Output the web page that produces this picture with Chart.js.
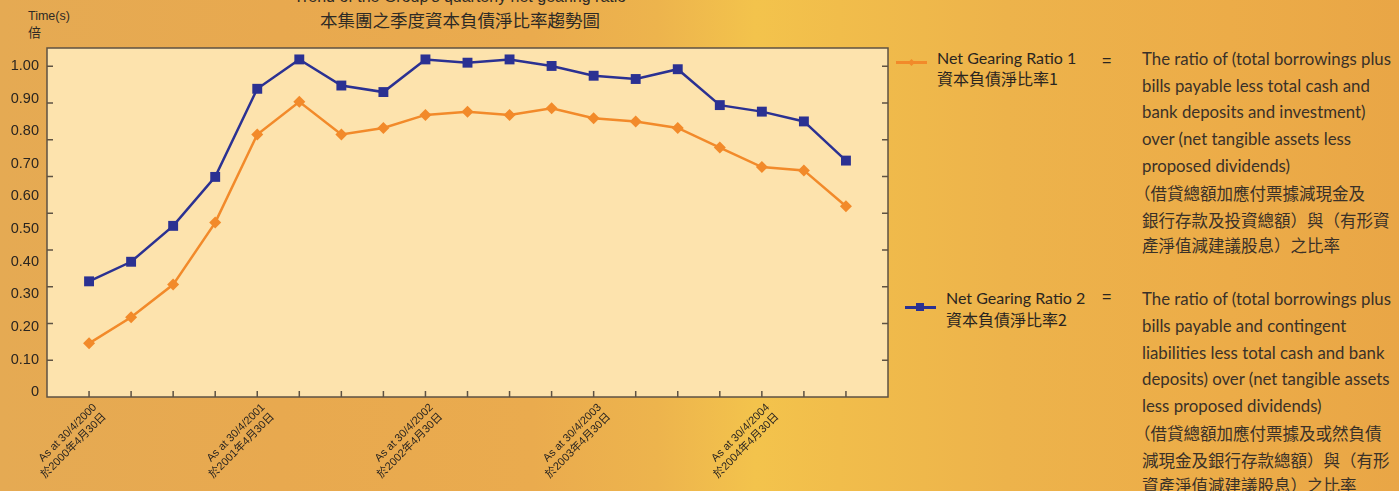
<!DOCTYPE html>
<html>
<head>
<meta charset="utf-8">
<script src="https://cdn.jsdelivr.net/npm/chart.js@4.4.1/dist/chart.umd.min.js"></script>
<style>
  html, body { margin: 0; padding: 0; }
  body {
    width: 1399px; height: 491px; overflow: hidden; position: relative;
    background: linear-gradient(90deg, #E5AA53 0%, #E8A94F 20%, #EAAB4E 38%, #EDB44D 47%, #F3C34C 54%, #F1BD4B 60%, #EDB34B 72%, #ECAC48 88%, #E9A646 100%);
    font-family: 'Liberation Sans', 'Noto Sans CJK TC', sans-serif;
    color: #2e2a25;
  }
  .abs { position: absolute; white-space: nowrap; }
  .cjk { font-family: 'Noto Sans CJK TC', sans-serif; }
  .lg { font-family: 'Lato', 'Liberation Sans', sans-serif; }
  .desc { font-family: 'Lato', 'Liberation Sans', sans-serif; font-size: 16.8px; color: #3a3128; height: 26px; line-height: 26px; }
  .desc.cjk { font-family: 'Noto Sans CJK TC', sans-serif; font-size: 16.5px; }
  #chartBox { position: absolute; left: 0; top: 0; width: 895px; height: 491px; }
</style>
</head>
<body>
<div class="abs" style="left:0;width:920px;text-align:center;top:-13px;line-height:20px;font-size:16px;">Trend of the Group's quarterly net gearing ratio</div>
<div class="abs cjk" style="left:0;width:920px;text-align:center;top:9px;line-height:22px;font-size:17.5px;">本集團之季度資本負債淨比率趨勢圖</div>
<div class="abs" style="left:28px;top:8px;line-height:16px;font-size:12.5px;">Time(s)</div>
<div class="abs cjk" style="left:28px;top:24px;line-height:16px;font-size:13px;">倍</div>

<div id="chartBox"><canvas id="gearingChart"></canvas></div>

<!-- legend 1 -->
<div class="abs" style="left:896px;top:61px;width:31px;height:2.5px;background:#F28A2A"></div>
<div class="abs" style="left:909px;top:59.5px;width:5px;height:5px;background:#F28A2A;transform:rotate(45deg)"></div>
<div class="abs lg" style="left:937px;top:48px;line-height:20px;font-size:16px;color:#2a2520">Net Gearing Ratio 1</div>
<div class="abs cjk" style="left:937px;top:68px;line-height:20px;font-size:16px;color:#2a2520">資本負債淨比率1</div>
<div class="abs" style="left:1102px;top:51px;line-height:20px;font-size:16px;color:#2a2520">=</div>

<div class="abs desc" style="left:1142px;top:46px">The ratio of (total borrowings plus</div>
<div class="abs desc" style="left:1142px;top:73px">bills payable less total cash and</div>
<div class="abs desc" style="left:1142px;top:99px">bank deposits and investment)</div>
<div class="abs desc" style="left:1142px;top:126px">over (net tangible assets less</div>
<div class="abs desc" style="left:1142px;top:153px">proposed dividends)</div>
<div class="abs desc cjk" style="left:1134px;top:180px">（借貸總額加應付票據減現金及</div>
<div class="abs desc cjk" style="left:1142px;top:207px">銀行存款及投資總額）與（有形資</div>
<div class="abs desc cjk" style="left:1142px;top:232px">產淨值減建議股息）之比率</div>

<!-- legend 2 -->
<div class="abs" style="left:905px;top:306px;width:31px;height:2.5px;background:#2B3192"></div>
<div class="abs" style="left:916px;top:303px;width:8px;height:8px;background:#2B3192"></div>
<div class="abs lg" style="left:946px;top:287.5px;line-height:20px;font-size:16px;color:#2a2520">Net Gearing Ratio 2</div>
<div class="abs cjk" style="left:946px;top:309px;line-height:20px;font-size:16px;color:#2a2520">資本負債淨比率2</div>
<div class="abs" style="left:1102px;top:287px;line-height:20px;font-size:16px;color:#2a2520">=</div>

<div class="abs desc" style="left:1142px;top:286px">The ratio of (total borrowings plus</div>
<div class="abs desc" style="left:1142px;top:313px">bills payable and contingent</div>
<div class="abs desc" style="left:1142px;top:340px">liabilities less total cash and bank</div>
<div class="abs desc" style="left:1142px;top:366px">deposits) over (net tangible assets</div>
<div class="abs desc" style="left:1142px;top:393px">less proposed dividends)</div>
<div class="abs desc cjk" style="left:1134px;top:420px">（借貸總額加應付票據及或然負債</div>
<div class="abs desc cjk" style="left:1142px;top:447px">減現金及銀行存款總額）與（有形</div>
<div class="abs desc cjk" style="left:1142px;top:472px">資產淨值減建議股息）之比率</div>

<script>
// quarterly points, 30/4/2000 .. 31/10/2004; only the April ones carry a label
const xTickLabels = [
  ['As at 30/4/2000', '於2000年4月30日'], '', '', '',
  ['As at 30/4/2001', '於2001年4月30日'], '', '', '',
  ['As at 30/4/2002', '於2002年4月30日'], '', '', '',
  ['As at 30/4/2003', '於2003年4月30日'], '', '', '',
  ['As at 30/4/2004', '於2004年4月30日'], '', ''
];

const ratio1 = [0.15, 0.23, 0.33, 0.52, 0.79, 0.89, 0.79, 0.81, 0.85, 0.86, 0.85, 0.87, 0.84, 0.83, 0.81, 0.75, 0.69, 0.68, 0.57];
const ratio2 = [0.34, 0.40, 0.51, 0.66, 0.93, 1.02, 0.94, 0.92, 1.02, 1.01, 1.02, 1.00, 0.97, 0.96, 0.99, 0.88, 0.86, 0.83, 0.71];

const yTickValues = [0, 0.1, 0.2, 0.3, 0.4, 0.5, 0.6, 0.7, 0.8, 0.9, 1.0];
const yTickLabels = ['0', '0.10', '0.20', '0.30', '0.40', '0.50', '0.60', '0.70', '0.80', '0.90', '1.00'];

// the small tick marks on the frame sit on their own (wider) spacing in the original
const tickMarkValues = [0.1, 0.2, 0.3, 0.4, 0.5, 0.6, 0.7, 0.8, 0.9];

const ORANGE = '#F28A2A';
const NAVY = '#2B3192';
const FRAME = '#5e5243';
const textFont = "'Liberation Sans', 'Noto Sans CJK TC', sans-serif";

const framePlugin = {
  id: 'frame',
  beforeDraw(chart) {
    const { ctx, chartArea: a } = chart;
    ctx.save();
    ctx.fillStyle = '#FDE3AD';
    ctx.fillRect(a.left, a.top, a.width, a.height);
    ctx.restore();
  },
  beforeDatasetsDraw(chart) {
    const { ctx, chartArea: a, scales } = chart;
    ctx.save();
    ctx.strokeStyle = FRAME;
    ctx.lineWidth = 1.5;
    ctx.beginPath();
    tickMarkValues.forEach(v => {
      const y = scales.yt.getPixelForValue(v);
      ctx.moveTo(a.left, y); ctx.lineTo(a.left + 6, y);
      ctx.moveTo(a.right, y); ctx.lineTo(a.right - 6, y);
    });
    xTickLabels.forEach((l, i) => {
      const x = scales.x.getPixelForValue(i);
      ctx.moveTo(x, a.bottom); ctx.lineTo(x, a.bottom - 6);
    });
    ctx.stroke();
    ctx.strokeRect(a.left, a.top, a.width, a.height);
    ctx.restore();
  }
};

new Chart(document.getElementById('gearingChart'), {
  type: 'line',
  data: {
    datasets: [{
      label: 'Net Gearing Ratio 1',
      data: ratio1.map((v, i) => ({ x: i, y: v })),
      borderColor: ORANGE,
      backgroundColor: ORANGE,
      borderWidth: 2.5,
      pointStyle: 'rectRot',
      pointRadius: 6,
      pointBorderWidth: 0,
      tension: 0
    }, {
      label: 'Net Gearing Ratio 2',
      data: ratio2.map((v, i) => ({ x: i, y: v })),
      borderColor: NAVY,
      backgroundColor: NAVY,
      borderWidth: 2.5,
      pointStyle: 'rect',
      pointRadius: 7,
      pointBorderWidth: 0,
      tension: 0
    }]
  },
  options: {
    responsive: true,
    maintainAspectRatio: false,
    animation: false,
    layout: { padding: { top: 48, right: 4 } },
    plugins: { legend: { display: false }, tooltip: { enabled: false } },
    scales: {
      x: {
        type: 'linear', min: -1, max: 19,
        afterFit: s => { s.height = 94; },
        afterBuildTicks: s => { s.ticks = xTickLabels.map((l, i) => ({ value: i })); },
        grid: { display: false, drawTicks: false },
        border: { display: false },
        ticks: {
          autoSkip: false, minRotation: 45, maxRotation: 45, padding: 4, labelOffset: 6,
          color: '#2a2520',
          font: { size: 11, family: "'Liberation Sans Narrow', 'Liberation Sans', 'Noto Sans CJK TC', sans-serif", lineHeight: 1.2 },
          callback: (v, i) => xTickLabels[i]
        }
      },
      y: {
        type: 'linear', position: 'left', min: -0.0144, max: 1.055,
        afterFit: s => { s.width = 47; },
        afterBuildTicks: s => { s.ticks = yTickValues.map(v => ({ value: v })); },
        grid: { display: false, drawTicks: false },
        border: { display: false },
        ticks: {
          padding: 8, color: '#2a2520',
          font: { size: 14.5, family: textFont },
          callback: (v, i) => yTickLabels[i]
        }
      },
      yt: {
        type: 'linear', position: 'left', display: false, min: 0, max: 0.95
      }
    }
  },
  plugins: [framePlugin]
});
</script>
</body>
</html>
